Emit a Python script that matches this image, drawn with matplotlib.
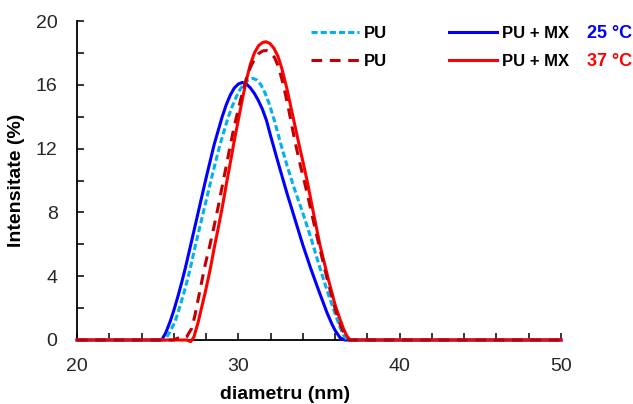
import matplotlib
matplotlib.use("Agg")
import matplotlib.pyplot as plt
from matplotlib.lines import Line2D
from matplotlib.ticker import MultipleLocator

plt.rcParams['font.family'] = ['Liberation Sans', 'DejaVu Sans']

# PU + MX, 25 C (solid blue)
d_mx25 = [20, 25.25, 25.5, 25.77, 26.0, 26.28, 26.5, 26.7, 27.0, 27.5, 28.0, 28.5, 29.0,
          29.25, 29.5, 29.75, 30.0, 30.25, 30.5, 30.75, 31.0, 31.25, 31.5, 31.75, 32.0,
          32.5, 33.0, 33.5, 34.0, 34.5, 35.0, 35.5, 35.8, 36.0, 36.3, 36.6, 50]
i_mx25 = [0, 0, 0.45, 1.15, 1.85, 2.82, 3.65, 4.45, 5.75, 7.95, 10.15, 12.25, 14.0,
          14.75, 15.35, 15.8, 16.05, 16.15, 16.05, 15.8, 15.45, 15.0, 14.45, 13.75, 12.8,
          11.0, 9.25, 7.6, 5.95, 4.45, 3.05, 1.7, 1.0, 0.6, 0.15, 0, 0]

# PU, 25 C (dashed light blue)
d_pu25 = [20, 25.46, 25.75, 26.08, 26.3, 26.59, 26.8, 27.0, 27.32, 27.83, 28.35, 28.85,
          29.35, 29.6, 29.85, 30.1, 30.35, 30.6, 30.9, 31.15, 31.4, 31.65, 31.9, 32.25,
          32.6, 33.0, 33.5, 34.0, 34.5, 35.0, 35.5, 36.0, 36.3, 36.5, 36.75, 50]
i_pu25 = [0, 0, 0.5, 1.15, 1.85, 2.82, 3.6, 4.4, 5.85, 8.0, 10.2, 12.2,
          13.9, 14.6, 15.2, 15.7, 16.05, 16.3, 16.4, 16.3, 16.0, 15.5, 14.85, 13.7,
          12.4, 11.0, 9.4, 7.95, 6.4, 4.7, 3.1, 1.65, 0.8, 0.35, 0, 0]

# PU, 37 C (dashed dark red)
d_pu37 = [20, 26.0, 26.25, 26.55, 26.8, 27.11, 27.3, 27.52, 27.75, 27.94, 28.25, 28.5,
          28.76, 29.07, 29.3, 29.5, 29.75, 30.0, 30.25, 30.5, 30.75, 31.0, 31.25, 31.5,
          31.75, 32.0, 32.25, 32.5, 32.79, 33.1, 33.5, 33.82, 34.1, 34.4, 34.7, 35.0,
          35.5, 36.0, 36.3, 36.6, 36.85, 50]
i_pu37 = [0, 0, 0.12, 0.08, 0.2, 0.73, 1.5, 2.6, 3.75, 4.7, 6.0, 7.15,
          8.4, 10.0, 11.15, 12.2, 13.4, 14.5, 15.5, 16.4, 17.1, 17.6, 17.95, 18.12,
          18.15, 18.0, 17.7, 17.1, 16.0, 14.55, 12.5, 11.05, 9.9, 8.6, 7.25, 5.95,
          3.85, 1.95, 1.0, 0.3, 0, 0]

# PU + MX, 37 C (solid red)
d_mx37 = [20, 26.8, 27.05, 27.25, 27.52, 27.75, 27.94, 28.25, 28.5, 28.75, 29.0, 29.28,
          29.5, 29.75, 30.0, 30.25, 30.5, 30.75, 31.0, 31.25, 31.5, 31.7, 31.95, 32.2,
          32.45, 32.69, 33.0, 33.41, 33.72, 34.0, 34.3, 34.65, 35.06, 35.58, 36.0, 36.2,
          36.5, 36.7, 36.92, 50]
i_mx37 = [0, 0, -0.1, 0.2, 1.15, 2.15, 2.95, 4.4, 5.75, 7.0, 8.3, 9.9,
          11.1, 12.5, 13.8, 15.1, 16.3, 17.3, 18.0, 18.45, 18.65, 18.7, 18.6, 18.3,
          17.8, 17.05, 15.8, 13.9, 12.45, 11.2, 9.8, 8.0, 5.95, 3.8, 2.2, 1.6,
          0.75, 0.3, 0, 0]

c_blue = '#0000FF'
c_lblue = '#00B0F0'
c_dred = '#C00000'
c_red = '#FF0000'
lw = 2.2

fig = plt.figure(figsize=(6.33, 4.04), dpi=100)
ax = fig.add_axes([77 / 633, 1 - 340 / 404, 484 / 633, 319 / 404])

ax.plot(d_mx25, i_mx25, color=c_blue, lw=lw, clip_on=False, zorder=3)
ax.plot(d_pu25, i_pu25, color=c_lblue, lw=lw, dashes=(2, 1), clip_on=False, zorder=3)
ax.plot(d_mx37, i_mx37, color=c_red, lw=lw, clip_on=False, zorder=4)
ax.plot(d_pu37, i_pu37, color=c_dred, lw=lw, dashes=(3.5, 2.5), clip_on=False, zorder=4)

ax.set_xlim(20, 50)
ax.set_ylim(0, 20)
ax.xaxis.set_major_locator(MultipleLocator(10))
ax.xaxis.set_minor_locator(MultipleLocator(2))
ax.yaxis.set_major_locator(MultipleLocator(4))
ax.yaxis.set_minor_locator(MultipleLocator(2))

for s in ['top', 'right']:
    ax.spines[s].set_visible(False)
for s in ['left', 'bottom']:
    ax.spines[s].set_linewidth(1.3)
    ax.spines[s].set_zorder(2.5)

ax.tick_params(which='both', direction='in', length=5, width=1.1)
ax.tick_params(axis='x', which='major', pad=13, labelsize=14, labelcolor='#262626')
ax.tick_params(axis='y', which='major', pad=14, labelsize=14, labelcolor='#262626')

ax.set_xlabel('diametru (nm)', fontsize=14, fontweight='bold')
ax.set_ylabel('Intensitate (%)', fontsize=14, fontweight='bold')
ax.xaxis.set_label_coords((285 - 77) / 484, -0.143)
ax.yaxis.set_label_coords(-0.107, 0.5)

handles = [
    Line2D([], [], color=c_lblue, lw=lw, dashes=(2, 1)),
    Line2D([], [], color=c_dred, lw=lw, dashes=(3.5, 2.5)),
    Line2D([], [], color=c_blue, lw=lw),
    Line2D([], [], color=c_red, lw=lw),
]
labels = ['PU', 'PU', 'PU + MX', 'PU + MX']
fig.legend(handles, labels, ncol=2, frameon=False,
           loc='center left', bbox_to_anchor=(311 / 633, 1 - 47.5 / 404),
           prop={'size': 12, 'weight': 'bold'}, handlelength=2.9,
           handletextpad=0.3, columnspacing=3.7, labelspacing=0.75,
           borderpad=0, borderaxespad=0)

fig.text(587 / 633, 1 - 33.5 / 404, '25 °C', color=c_blue, fontsize=13,
         fontweight='bold', va='center', ha='left')
fig.text(587 / 633, 1 - 62 / 404, '37 °C', color=c_red, fontsize=13,
         fontweight='bold', va='center', ha='left')

fig.savefig('out.png', dpi=100)
